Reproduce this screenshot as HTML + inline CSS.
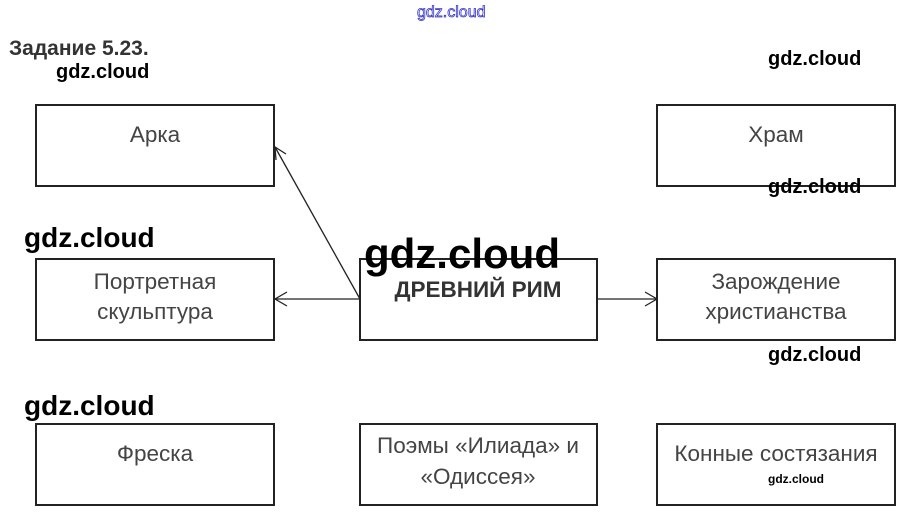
<!DOCTYPE html>
<html><head><meta charset="utf-8"><style>
html,body{margin:0;padding:0;background:#fff;width:909px;height:514px;overflow:hidden}
svg{display:block}
.b{fill:none;stroke:#222;stroke-width:2}
.t{font-family:"Liberation Sans",sans-serif;font-size:22.5px;fill:#444;text-anchor:middle}
.w{font-family:"Liberation Sans",sans-serif;font-weight:bold;fill:#000}
</style></head><body>
<svg width="909" height="514" viewBox="0 0 909 514">
<text x="417" y="17" font-family="Liberation Sans,sans-serif" font-size="16" fill="#fff" stroke="#3333cc" stroke-width="0.8">gdz.cloud</text>
<text x="9" y="55" font-family="Liberation Sans,sans-serif" font-size="21" font-weight="bold" fill="#333">Задание 5.23.</text>
<text class="w" x="56" y="78" font-size="20">gdz.cloud</text>
<text class="w" x="768" y="65" font-size="20">gdz.cloud</text>

<rect class="b" x="36" y="105" width="238" height="81"/>
<rect class="b" x="657" y="105" width="238" height="81"/>
<rect class="b" x="36" y="259" width="238" height="81"/>
<rect class="b" x="360" y="259" width="237" height="81"/>
<rect class="b" x="657" y="259" width="238" height="81"/>
<rect class="b" x="36" y="424" width="238" height="81"/>
<rect class="b" x="360" y="424" width="237" height="81"/>
<rect class="b" x="657" y="424" width="238" height="81"/>

<g stroke="#222" stroke-width="1.3" fill="none">
<line x1="360" y1="299" x2="275" y2="147"/>
<polyline points="276,160 275,147 286,154"/>
<line x1="360" y1="299" x2="275" y2="299"/>
<polyline points="287,292 275,299 287,306"/>
<line x1="597" y1="299" x2="657" y2="299"/>
<polyline points="645,292 657,299 645,306"/>
</g>

<text class="t" x="155" y="142">Арка</text>
<text class="t" x="776" y="142">Храм</text>
<text class="t" x="155" y="289">Портретная</text>
<text class="t" x="155" y="319">скульптура</text>
<text x="478" y="297" font-family="Liberation Sans,sans-serif" font-size="22.5" font-weight="bold" fill="#333" text-anchor="middle">ДРЕВНИЙ РИМ</text>
<text class="t" x="776" y="289">Зарождение</text>
<text class="t" x="776" y="319">христианства</text>
<text class="t" x="155" y="461">Фреска</text>
<text class="t" x="478" y="453">Поэмы «Илиада» и</text>
<text class="t" x="478" y="484">«Одиссея»</text>
<text class="t" x="776" y="461">Конные состязания</text>

<text class="w" x="768" y="193" font-size="20">gdz.cloud</text>
<text class="w" x="24" y="247" font-size="28">gdz.cloud</text>
<text class="w" x="364" y="268" font-size="42">gdz.cloud</text>
<text class="w" x="768" y="361" font-size="20">gdz.cloud</text>
<text class="w" x="24" y="415" font-size="28">gdz.cloud</text>
<text class="w" x="768" y="483" font-size="12">gdz.cloud</text>
</svg>
</body></html>
